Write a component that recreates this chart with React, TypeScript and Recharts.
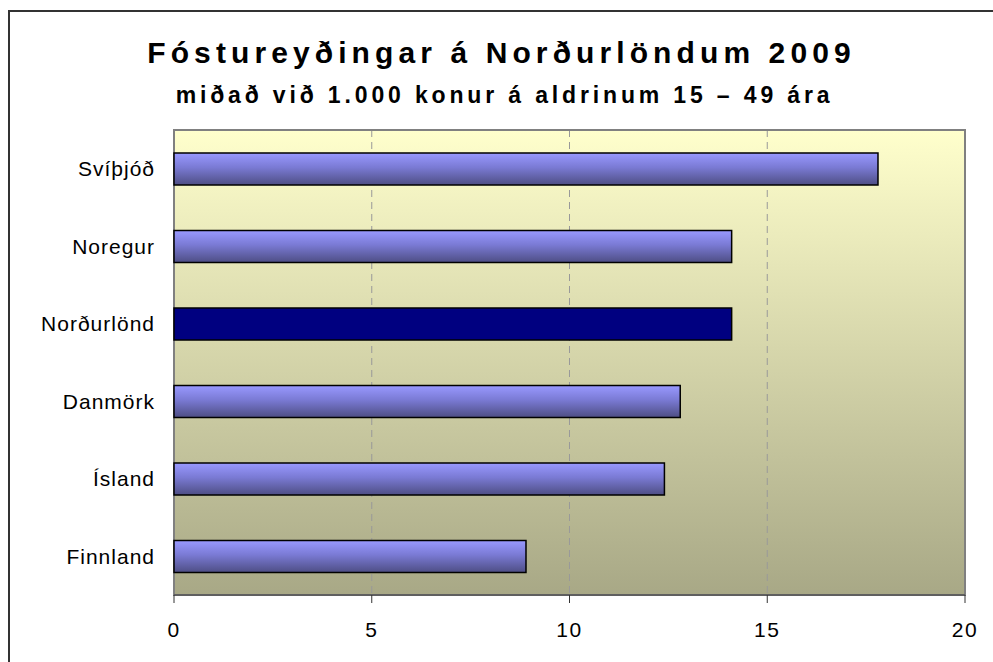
import React from 'react';
import { BarChart, Bar, XAxis, YAxis, CartesianGrid, Cell, ReferenceArea } from 'recharts';

const countries = ['Svíþjóð', 'Noregur', 'Norðurlönd', 'Danmörk', 'Ísland', 'Finnland'];
const rates = [17.8, 14.1, 14.1, 12.8, 12.4, 8.9];
const highlight = 'Norðurlönd';
const xTicks = [0, 5, 10, 15, 20];
const bandTicks = [0, 1, 2, 3, 4, 5, 6];
const title = 'Fóstureyðingar á Norðurlöndum 2009';
const subtitle = 'miðað við 1.000 konur á aldrinum 15 – 49 ára';

const data = countries.map((c, i) => ({ name: c, value: rates[i] }));

const FONT = '"Liberation Sans", Arial, sans-serif';

export default function App() {
  return (
    <div
      style={{
        position: 'fixed',
        left: 8,
        top: 10,
        width: 983,
        height: 650,
        overflow: 'hidden',
        borderTop: '2px solid #333',
        borderLeft: '2px solid #333',
        fontFamily: FONT,
        background: '#fff',
      }}
    >
      <div
        style={{
          position: 'absolute',
          left: 0,
          top: 25.5,
          width: 983,
          textAlign: 'center',
          fontSize: 30,
          lineHeight: '30px',
          fontWeight: 'bold',
          letterSpacing: 5.1,
          color: '#000',
          whiteSpace: 'nowrap',
        }}
      >
        {title}
      </div>
      <div
        style={{
          position: 'absolute',
          left: 3,
          top: 71.5,
          width: 983,
          textAlign: 'center',
          fontSize: 23,
          lineHeight: '23px',
          fontWeight: 'bold',
          letterSpacing: 3.85,
          color: '#000',
          whiteSpace: 'nowrap',
        }}
      >
        {subtitle}
      </div>
      <BarChart
        width={983}
        height={650}
        data={data}
        layout="vertical"
        margin={{ top: 118, right: 28, bottom: 27, left: 0 }}
        style={{ fontFamily: FONT }}
      >
        <defs>
          <linearGradient id="plotBg" x1="0" y1="0" x2="0" y2="1">
            <stop offset="0%" stopColor="#FFFFCC" />
            <stop offset="100%" stopColor="#A8A886" />
          </linearGradient>
          <linearGradient id="barFill" x1="0" y1="0" x2="0" y2="1">
            <stop offset="0%" stopColor="#9999FF" />
            <stop offset="45%" stopColor="#7A7AD4" />
            <stop offset="100%" stopColor="#4E4E84" />
          </linearGradient>
        </defs>
        <CartesianGrid
          horizontal={false}
          fill="url(#plotBg)"
          stroke="#999"
          strokeDasharray="7 5"
          yAxisId="cat"
        />
        <XAxis
          type="number"
          domain={[0, 20]}
          ticks={xTicks}
          height={40}
          tickSize={8}
          tickMargin={19}
          tick={{ fill: '#000', fontSize: 21, letterSpacing: 1.5 }}
          axisLine={{ stroke: '#555', strokeWidth: 1.5 }}
          tickLine={{ stroke: '#333' }}
        />
        <YAxis
          yAxisId="bands"
          type="number"
          domain={[0, 6]}
          ticks={bandTicks}
          width={0}
          tickSize={8}
          tickFormatter={() => ''}
          axisLine={{ stroke: '#333', strokeWidth: 1.5 }}
          tickLine={{ stroke: '#333' }}
          allowDataOverflow
        />
        <YAxis
          yAxisId="cat"
          type="category"
          dataKey="name"
          width={164}
          tickSize={0}
          tickMargin={19}
          axisLine={false}
          tickLine={false}
          tick={{ fill: '#000', fontSize: 21, letterSpacing: 1.0 }}
        />
        <ReferenceArea
          yAxisId="cat"
          x1={0}
          x2={20}
          fill="none"
          stroke="#808080"
          strokeWidth={2}
        />
        <Bar
          yAxisId="cat"
          dataKey="value"
          barSize={32}
          stroke="#000"
          strokeWidth={1.5}
          isAnimationActive={false}
        >
          {data.map((d) => (
            <Cell key={d.name} fill={d.name === highlight ? '#000080' : 'url(#barFill)'} />
          ))}
        </Bar>
      </BarChart>
    </div>
  );
}
